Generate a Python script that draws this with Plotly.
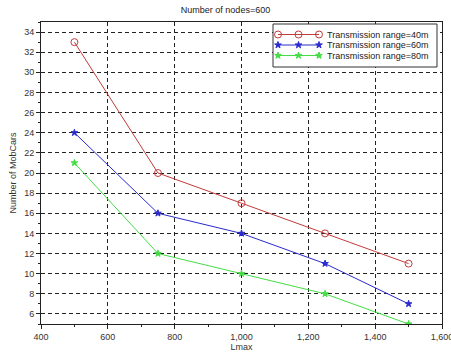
import plotly.graph_objects as go

lmax = [500, 750, 1000, 1250, 1500]
range40 = [33, 20, 17, 14, 11]
range60 = [24, 16, 14, 11, 7]
range80 = [21, 12, 10, 8, 5]
names = ["Transmission range=40m", "Transmission range=60m", "Transmission range=80m"]
colors = ["#c23b3b", "#2a2ad0", "#44dd44"]
symbols = ["circle-open", "star", "star"]
sizes = [7, 5, 5]
series = [range40, range60, range80]

fig = go.Figure()
for name, ys, c, s, sz in zip(names, series, colors, symbols, sizes):
    fig.add_trace(go.Scatter(x=lmax, y=ys, name=name, mode="lines+markers",
                             line=dict(color=c, width=1),
                             marker=dict(symbol=s, size=sz, color=c, line=dict(width=1, color=c)),
                             showlegend=False))

# manual legend drawn on an overlay axis measured in pixels
L, R, T, B = 41, 442, 22, 324
XR, YR = (400, 1600), (5, 35)
box = (273, 437, 24, 67)
rows = [34.5, 45, 55.5]
lx0, lx1, tx = 278, 319, 325


def px2x(p):
    return XR[0] + (p - L) / (R - L) * (XR[1] - XR[0])


def py2y(p):
    return YR[1] - (p - T) / (B - T) * (YR[1] - YR[0])


for name, row, c, s, sz in zip(names, rows, colors, symbols, sizes):
    fig.add_trace(go.Scatter(x=[lx0, (lx0 + lx1) / 2, lx1], y=[row] * 3, mode="lines+markers",
                             xaxis="x2", yaxis="y2", hoverinfo="skip", showlegend=False,
                             line=dict(color=c, width=1),
                             marker=dict(symbol=s, size=sz, color=c, line=dict(width=1, color=c))))
    fig.add_annotation(x=tx, y=row, xref="x2", yref="y2", text=name, showarrow=False,
                       xanchor="left", yanchor="middle", font=dict(size=9, color="#222222"))

fig.add_shape(type="rect", xref="x", yref="y", x0=px2x(box[0]), x1=px2x(box[1]),
              y0=py2y(box[2]), y1=py2y(box[3]),
              line=dict(color="#333333", width=1), fillcolor="white", layer="between")

font = dict(family="Liberation Sans, Arial, sans-serif", size=9, color="#333333")
fig.update_layout(
    width=451, height=356,
    margin=dict(l=L, r=451 - R, t=T, b=356 - B, autoexpand=False),
    paper_bgcolor="white", plot_bgcolor="white",
    font=font,
    title=dict(text="Number of nodes=600", x=0.5, xanchor="center", y=0.972, yanchor="middle",
               font=dict(size=9, color="#222222")),
    showlegend=False,
    xaxis=dict(range=list(XR), tickvals=[400, 600, 800, 1000, 1200, 1400, 1600],
               tickformat=",d", showgrid=True, gridcolor="#222222", griddash="4px,3px", gridwidth=1,
               showline=True, linecolor="#222222", linewidth=1, mirror=True,
               ticks="outside", ticklen=4, tickcolor="#222222", ticklabeloverflow="allow",
               minor=dict(ticks="outside", ticklen=2, dtick=100, tick0=400, tickcolor="#222222", showgrid=False),
               zeroline=False,
               title=dict(text="Lmax", standoff=2, font=dict(size=9))),
    yaxis=dict(range=list(YR), tickvals=list(range(6, 35, 2)),
               showgrid=True, gridcolor="#222222", griddash="4px,3px", gridwidth=1,
               showline=True, linecolor="#222222", linewidth=1, mirror=True,
               ticks="outside", ticklen=4, tickcolor="#222222",
               minor=dict(ticks="outside", ticklen=2, dtick=1, tick0=5, tickcolor="#222222", showgrid=False),
               zeroline=False,
               title=dict(text="Number of MobCars", standoff=6, font=dict(size=9))),
    xaxis2=dict(overlaying="x", range=[L, R], visible=False, fixedrange=True),
    yaxis2=dict(overlaying="y", range=[B, T], visible=False, fixedrange=True),
)

fig.write_html("out.html", post_script="document.body.style.margin='0';",
               config={"displayModeBar": False})
